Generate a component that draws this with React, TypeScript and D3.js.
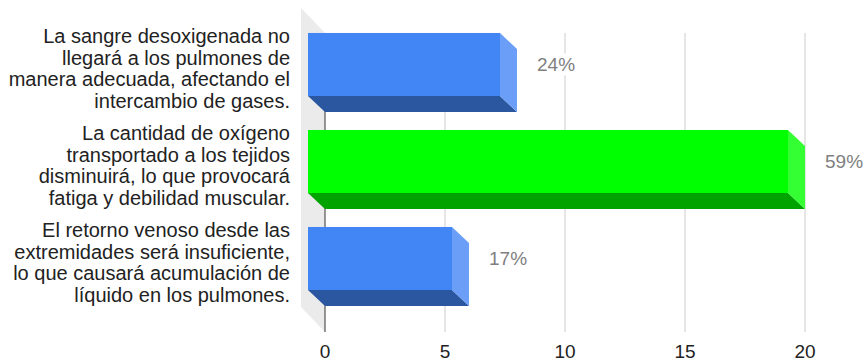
import React from "react";
import * as d3 from "d3";

const categories: string[][] = [
  ["La sangre desoxigenada no", "llegará a los pulmones de", "manera adecuada, afectando el", "intercambio de gases."],
  ["La cantidad de oxígeno", "transportado a los tejidos", "disminuirá, lo que provocará", "fatiga y debilidad muscular."],
  ["El retorno venoso desde las", "extremidades será insuficiente,", "lo que causará acumulación de", "líquido en los pulmones."],
];
const values: number[] = [8, 20, 6];
const valueLabels: string[] = ["24%", "59%", "17%"];
const ticks: number[] = [0, 5, 10, 15, 20];

const faceColors = [
  { front: "#4285f4", side: "#6a9ef7", bottom: "#2b57a1" },
  { front: "#00ff00", side: "#33ff33", bottom: "#00a300" },
  { front: "#4285f4", side: "#6a9ef7", bottom: "#2b57a1" },
];

const W = 866;
const H = 362;
const FONT = "Arial, 'Liberation Sans', sans-serif";

export default function App() {
  const x = d3.scaleLinear().domain([0, 20]).range([325, 805]);
  const depthX = 17;
  const depthY = 16;
  const wallDX = 24;
  const wallDY = 25;
  const backTop = 33;
  const backBottom = 332;
  const y = d3
    .scaleBand<number>()
    .domain(d3.range(values.length))
    .range([16, 16 + 3 * 97])
    .paddingInner(0.35)
    .paddingOuter(0.175);

  const x0 = x(0);
  const wall = [
    [x0 - wallDX, backTop - wallDY],
    [x0, backTop],
    [x0, backBottom],
    [x0 - wallDX, backBottom - wallDY],
  ];
  const pts = (p: number[][]) => p.map((q) => q.join(",")).join(" ");

  return (
    <div style={{ position: "fixed", left: 0, top: 0, width: W, height: H, overflow: "hidden" }}>
      <svg width={W} height={H} style={{ display: "block", fontFamily: FONT }}>
        <rect width={W} height={H} fill="#ffffff" />
        <polygon points={pts(wall)} fill="#ebebeb" />
        {ticks.map((t) => (
          <line
            key={"g" + t}
            x1={x(t)}
            x2={x(t)}
            y1={backTop}
            y2={backBottom}
            stroke={t === 0 ? "#333333" : "#cccccc"}
            strokeWidth={1}
          />
        ))}
        {ticks.map((t) => (
          <text key={"t" + t} x={x(t)} y={358} textAnchor="middle" fontSize={19} fill="#222222">
            {t}
          </text>
        ))}
        {values.map((v, i) => {
          const top = y(i)!;
          const bh = y.bandwidth();
          const fx0 = x(0) - depthX;
          const fx1 = x(v) - depthX;
          const c = faceColors[i];
          const side = [
            [fx1, top],
            [fx1 + depthX, top + depthY],
            [fx1 + depthX, top + bh + depthY],
            [fx1, top + bh],
          ];
          const bottom = [
            [fx0, top + bh],
            [fx1, top + bh],
            [fx1 + depthX, top + bh + depthY],
            [fx0 + depthX, top + bh + depthY],
          ];
          const lx = x(v) + 20;
          const cy = top + bh / 2;
          return (
            <g key={"b" + i}>
              <polygon points={pts(bottom)} fill={c.bottom} />
              <polygon points={pts(side)} fill={c.side} />
              <rect x={fx0} y={top} width={fx1 - fx0} height={bh} fill={c.front} />
              <rect x={lx - 2} y={cy - 11} width={44} height={22} fill="#ffffff" />
              <text x={lx} y={cy + 6} fontSize={19} fill="#808080">
                {valueLabels[i]}
              </text>
              {categories[i].map((line, j) => (
                <text
                  key={j}
                  x={290}
                  y={cy + 4 + (j - 1.5) * 21.5 + 7}
                  textAnchor="end"
                  fontSize={20}
                  fill="#222222"
                >
                  {line}
                </text>
              ))}
            </g>
          );
        })}
      </svg>
    </div>
  );
}
